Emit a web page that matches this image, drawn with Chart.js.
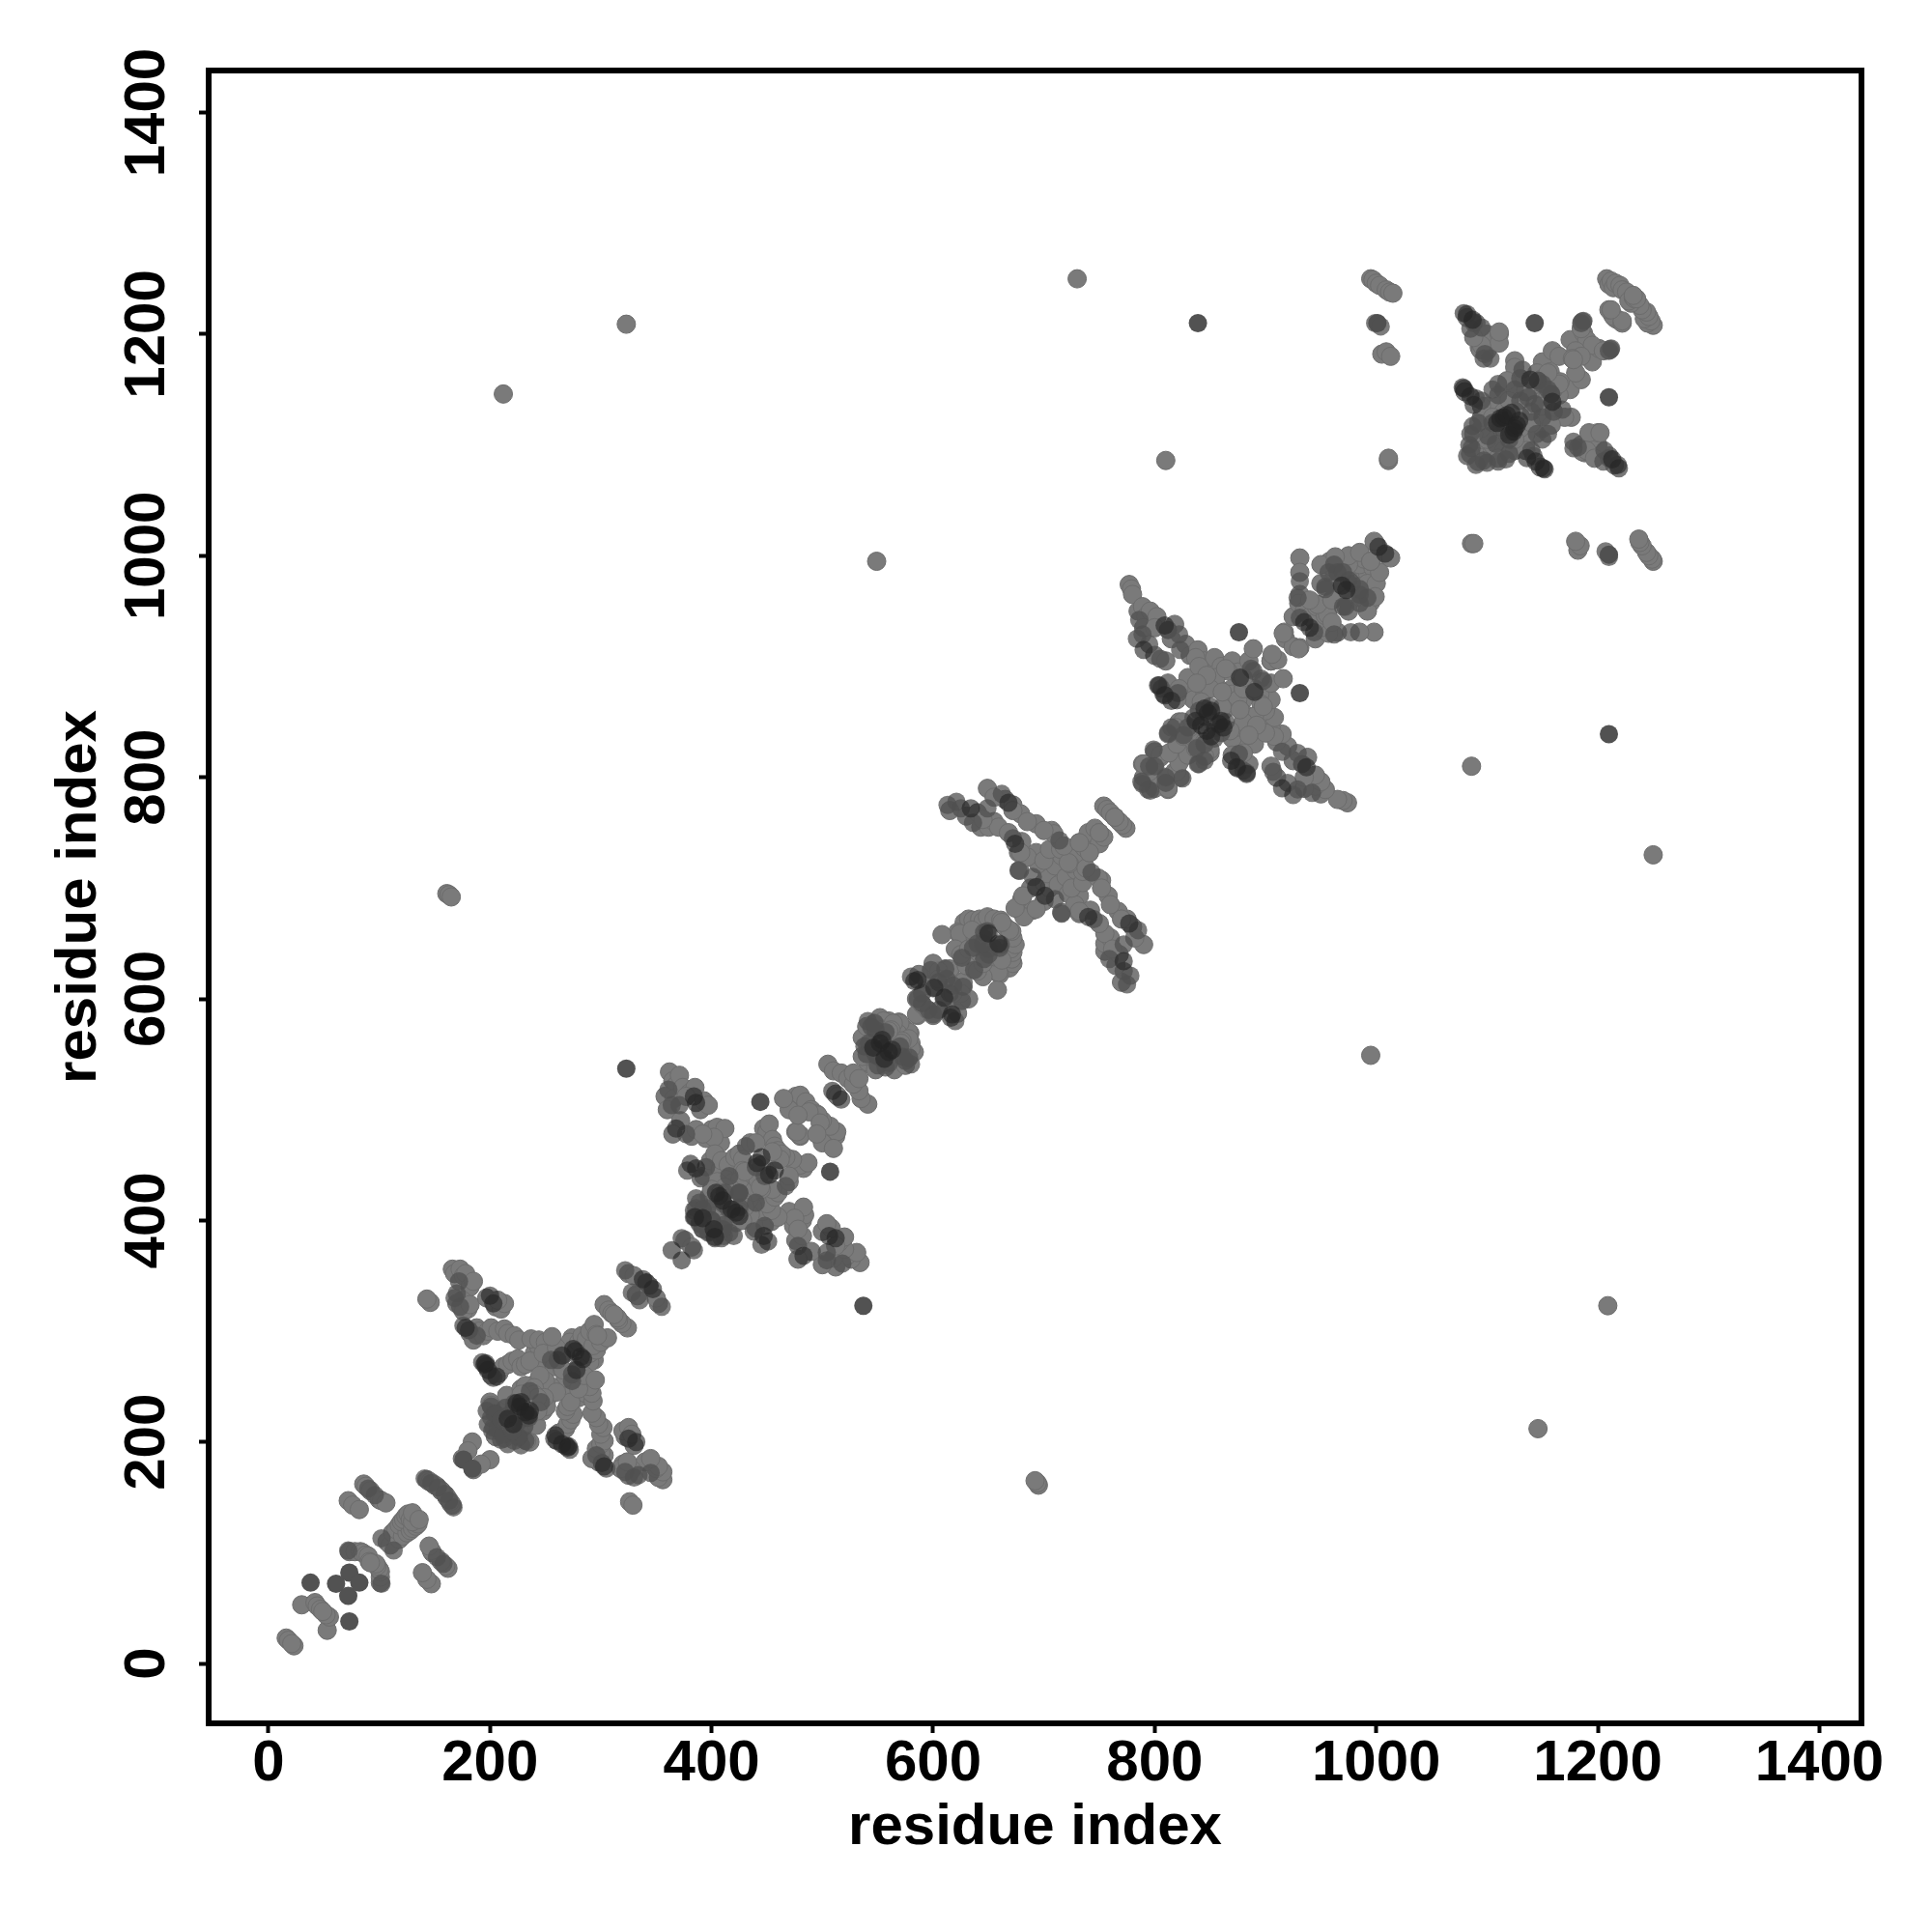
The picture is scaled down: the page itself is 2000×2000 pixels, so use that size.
<!DOCTYPE html>
<html>
<head>
<meta charset="utf-8">
<script src="https://cdn.jsdelivr.net/npm/chart.js@4"></script>
<style>
  html, body { margin: 0; padding: 0; background: #fff; }
  canvas { display: block; }
</style>
</head>
<body>
<canvas id="myChart" width="2000" height="2000"></canvas>
<script>
// contact map, only i < j is listed, the plot is symmetric so each pair goes in twice
const tickValues = [0, 200, 400, 600, 800, 1000, 1200, 1400];
const axisLabel = 'residue index';

// the darkest spots, these stay visible on top of the clusters
const coreContacts = [
  [200,332],[203,325],[178,303],[195,270],[198,265],[224,235],[227,232],[206,259],[196,271],[275,284],[277,282],[265,278],[338,347],[228,236],[216,221],
  [384,512],[386,506],[368,483],[381,451],[386,447],[445,457],[441,452],[407,422],[410,418],[404,425],[392,402],[385,403],[364,373],[509,517],
  [546,556],[552,560],[554,563],[583,616],[601,610],[586,617],[650,659],[693,701],[634,772],[668,777],[674,740],
  [809,937],[790,915],[803,883],[809,874],[877,890],[837,851],[842,847],[851,860],[848,858],[845,862],[815,869],
  [935,940],[969,973],[1002,1008],
  [1079,1219],[1087,1213],[1078,1152],[1085,1144],[1139,1159],[1109,1120],[1122,1129],[1115,1125],[1112,1124],[1118,1127],[1088,1136],[1079,1151]
];

// strong contacts, mostly hidden under the lighter dots
const darkContacts = [
  [176,184],[181,301],[201,260],[341,344],[444,507],[546,554],[812,933],[876,931],[1143,1210],[1001,1210],[1146,1158],[1112,1122],
  [38,73],[323,537],[839,1210],[61,72],[73,82]
];

// middle shade
const midContacts = [
  [72,102],[102,113],[141,167],[147,163],[153,159],[90,158],[96,152],
  [170,334],[173,322],[188,296],[201,232],[201,222],[202,210],[214,231],[232,225],[226,204],[213,203],
  [261,274],[255,274],[236,246],[322,355],[328,335],[361,518],[364,504],[371,504],[377,478],
  [389,416],[386,411],[389,397],[397,390],[396,411],[409,384],[373,384],[415,411],[431,467],[440,448],
  [538,557],[544,575],[548,572],[540,550],[557,570],[586,600],[598,626],[611,627],[605,615],[596,590],
  [636,646],[646,660],[661,649],[626,637],[677,716],[613,775],[621,778],[636,759],[649,772],[662,785],
  [714,743],[789,929],[786,942],[805,907],[822,929],[823,915],[821,876],[812,839],[826,838],[854,835],
  [789,794],[796,788],[825,799],[840,812],[883,804],[864,850],[889,896],[898,887],[931,977],[944,931],
  [962,929],[962,992],[954,972],[970,954],[985,957],[999,1210],[1004,1207],
  [1095,1206],[1098,1182],[1097,1178],[1095,1140],[1110,1155],[1132,1168],[1087,1117],[1084,1100],
  [1097,1086],[1116,1112],[1101,1108],[1143,1137],[1082,1218],[1088,1210],[1187,1212],[1185,1210],
  [197,228],[205,225],[198,216],[207,212],[218,225],[222,232],[235,222],[220,210],[193,272],[203,258],
  [176,305],[172,345],[168,330],[378,445],[390,438],[395,448],[416,440],[412,425],[425,425],[386,420],
  [392,410],[384,403],[392,392],[400,400],[541,580],[547,578],[542,560],[555,555],[550,548],[580,620],
  [590,605],[612,618],[640,650],[650,645],[690,710],[625,772],[672,745],[795,920],[784,925],[806,880],
  [815,845],[830,845],[860,840],[795,810],[810,800],[875,808],[965,985],[978,975],[985,970],
  [1085,1205],[1103,1178],[1090,1142],[1105,1150],[1130,1160],[1150,1155],[1130,1140],[1085,1110],
  [1092,1120],[1105,1120],[1120,1115],[1145,1110],[1082,1090],[1125,1150]
];

// weakest contacts (lightest dots)
const lightContacts = [
  [16,23],[18,21],[30,53],[42,55],[44,52],[47,49],
  [73,101],[78,101],[83,101],[85,100],[88,98],[90,97],[91,92],[72,147],[76,143],[82,139],[86,162],[88,160],[92,156],[100,148],[102,147],[106,145],
  [107,110],[112,118],[115,121],[118,125],[120,128],[122,130],[124,133],[126,135],[128,130],[130,136],[143,166],[144,165],[146,164],[149,162],[150,161],[152,160],[156,156],[175,185],[184,200],[180,192],
  [166,356],[168,352],[173,356],[176,350],[178,352],[182,340],[185,345],[175,328],[180,320],[170,325],[176,318],[146,326],[143,329],[182,324],[197,330],[205,322],[210,320],[213,325],[207,328],
  [182,298],[185,292],[188,303],[190,300],[194,296],[198,300],[201,303],[207,300],[213,302],[216,298],[222,296],[226,292],
  [197,268],[205,263],[208,262],[212,268],[216,270],[220,273],[225,275],[228,268],[232,270],[240,280],[244,286],[254,282],[250,272],[258,268],
  [237,293],[244,292],[250,290],[236,273],[248,280],[221,216],[228,228],[228,208],[236,200],[239,219],[242,215],[233,201],[245,233],[248,228],[252,240],[255,250],[260,245],[205,205],
  [232,251],[240,249],[240,243],[228,243],[274,294],[265,266],[268,280],[272,290],[280,290],[283,296],[260,285],[256,295],[287,293],[290,300],[294,306],[296,297],[303,324],[307,319],[310,316],[315,312],
  [325,352],[330,350],[332,333],
  [362,534],[365,526],[368,522],[358,512],[366,510],[360,500],[371,531],[374,520],[380,515],[390,500],[393,508],[397,504],[385,520],[377,512],[372,490],[365,478],[382,476],[395,474],[386,482],[400,482],[405,484],[408,470],[412,483],[402,475],[392,478],
  [447,483],[450,480],[452,487],[455,473],[457,467],[460,463],[393,440],[399,454],[403,460],[408,446],[409,454],[415,450],[421,457],[425,460],[435,470],[428,455],[413,437],[423,431],[419,434],[428,445],[432,438],[436,425],[436,442],[444,430],[450,445],[462,455],[440,470],[405,435],[418,428],
  [405,405],[410,395],[402,415],[398,422],[412,404],[420,400],[430,412],[400,428],[425,408],[376,382],[505,541],[510,535],[517,533],[523,528],[512,514],[476,512],[480,513],[485,507],[490,500],[495,496],[476,480],[480,477],[470,500],[465,510],[488,498],[478,495],
  [528,533],[552,583],[560,580],[554,576],[569,579],[572,575],[578,570],[576,560],[580,555],[578,547],[536,565],[557,541],[543,541],[563,550],[569,568],[564,578],[550,565],[572,552],[586,585],[562,572],[566,560],[571,560],[548,542],[556,550],[575,540],[536,548],
  [626,600],[627,611],[615,623],[615,627],[586,600],[595,612],[587,622],[600,632],[605,625],[590,595],[600,585],[610,600],[618,605],
  [628,669],[632,672],[636,671],[642,672],[645,670],[649,674],[655,672],[661,671],[665,665],[669,662],[622,660],[632,656],[626,653],[630,650],[640,640],[608,658],[634,640],[645,655],[624,659],[655,638],[662,635],[620,645],[630,630],[640,625],[645,632],
  [677,681],[680,690],[682,674],[688,700],[693,681],[700,705],[678,716],[703,713],[710,720],[695,722],[693,732],[685,728],[677,732],[716,729],[700,725],[705,735],[715,735],[725,735],[728,728],[707,752],[693,758],[709,749],[723,722],
  [649,790],[615,770],[630,765],[640,768],[643,755],[650,755],[655,760],[659,755],[665,780],[672,775],[668,750],[679,767],[680,742],[685,760],[700,752],[718,738],[679,732],[732,741],[736,737],[740,750],[741,732],[754,774],[757,771],[760,768],[764,764],[746,754],[750,750],[655,782],[672,770],[645,762],
  [777,974],[779,970],[780,965],[785,950],[789,954],[792,945],[796,950],[790,935],[802,945],[800,935],[815,925],[818,938],[800,910],[810,905],[828,920],[832,910],[839,915],[845,905],[837,908],[854,908],[860,900],[870,905],[875,895],[885,905],[838,884],[854,887],[866,896],[889,916],[860,878],[870,880],
  [812,880],[828,880],[845,880],[850,890],[858,880],[870,875],[880,880],[890,880],
  [822,850],[845,855],[855,850],[835,835],[845,832],[870,835],[878,845],[890,855],[880,850],[800,823],[805,818],[789,812],[800,809],[820,805],[790,800],[805,795],[815,822],[822,813],[830,820],[850,825],[870,820],[885,812],[890,830],[900,840],[845,819],[837,826],[812,790],[880,822],[863,861],[877,861],[892,847],[885,838],[868,842],[898,864],
  [905,905],[911,906],[918,925],[917,931],[925,945],[930,916],[931,998],[931,985],[931,965],[930,957],[935,950],[940,945],[946,954],[956,947],[940,960],
  [954,992],[958,995],[970,995],[975,990],[979,995],[990,995],[958,975],[962,985],[965,965],[972,980],[975,965],[985,990],[992,985],[997,989],[992,975],[990,960],[1000,975],[1003,985],[960,960],[975,950],[992,950],[999,963],[995,995],[1000,1010],[1013,998],
  [1082,1215],[1090,1210],[1100,1200],[1105,1195],[1093,1188],[1100,1185],[1111,1200],[1111,1192],[1125,1176],[1125,1170],[1150,1175],[1159,1185],[1165,1180],[1175,1195],[1186,1211],[1187,1201],[1190,1195],[1185,1205],[1180,1185],[1120,1155],[1157,1166],[1177,1178],
  [1080,1148],[1100,1135],[1115,1150],[1145,1165],[1160,1150],[1140,1150],[1155,1145],[1120,1140],[1110,1135],[1090,1095],[1100,1095],[1095,1105],[1105,1100],[1115,1095],[1130,1115],[1125,1095],[1135,1095],[1140,1120],[1155,1125],[1160,1130],[1092,1085],
  [1110,1088],[1130,1126],[1122,1105],[1158,1118],[1150,1135],[1094,1186],[1111,1202],[1095,1190],[1088,1197],[1105,1125],[1135,1148],[1165,1155],
  [1208,1250],[1210,1245],[1212,1248],[1214,1242],[1216,1246],[1220,1244],[1222,1240],[1226,1238],[1230,1228],[1232,1233],[1235,1232],[1213,1218],[1216,1214],[1210,1222],[1222,1212],
  [212,1146],[323,1209],[730,1250],[810,1086],[549,995],[161,695],[163,694],[165,692],
  [995,1250],[997,1249],[1000,1246],[1003,1244],[1009,1240],[1012,1238],[1015,1237],[1005,1182],[1009,1184],[1013,1180],[1011,1086],[1011,1088]
];

// both orders of every pair
const bothWays = pairs => pairs.flatMap(([i, j]) => [{x: i, y: j}, {x: j, y: i}]);

const boxPlugin = {
  id: 'box',
  afterDraw(chart) {
    const {ctx, chartArea: a} = chart;
    ctx.save();
    ctx.strokeStyle = '#000';
    ctx.lineWidth = 6;
    ctx.strokeRect(a.left, a.top, a.right - a.left, a.bottom - a.top);
    ctx.restore();
  }
};

const font = {family: '"Liberation Sans"', size: 60, weight: 'bold'};

function axis(extra) {
  return Object.assign({
    type: 'linear',
    min: -54,
    max: 1438,
    afterBuildTicks: scale => { scale.ticks = tickValues.map(v => ({value: v})); },
    grid: {drawOnChartArea: false, drawTicks: true, tickLength: 10, tickWidth: 4, tickColor: '#000'},
    border: {display: false},
  }, extra);
}

new Chart(document.getElementById('myChart'), {
  type: 'scatter',
  data: {
    datasets: [
      {label: 'core', data: bothWays(coreContacts), order: 0, backgroundColor: 'rgba(35,35,35,0.62)'},
      {label: 'medium', data: bothWays(midContacts), order: 1, backgroundColor: 'rgba(80,80,80,0.75)'},
      {label: 'strong', data: bothWays(darkContacts), order: 2, backgroundColor: 'rgb(82,82,82)'},
      {label: 'weak', data: bothWays(lightContacts), order: 3, backgroundColor: 'rgb(122,122,122)',
        borderColor: 'rgb(108,108,108)', pointBorderWidth: 1},
    ]
  },
  options: {
    responsive: false,
    animation: false,
    elements: {point: {radius: 9.5, borderWidth: 0}},
    layout: {padding: {left: 46, right: 73, top: 73, bottom: 72}},
    plugins: {legend: {display: false}, tooltip: {enabled: false}},
    scales: {
      x: axis({
        afterFit: scale => { scale.height = 216 - 72; },
        ticks: {color: '#000', font, padding: -4, autoSkip: false, maxRotation: 0, callback: v => String(v)},
        title: {display: true, text: axisLabel, color: '#000', font, padding: {top: 0, bottom: 0}},
      }),
      y: axis({
        afterFit: scale => { scale.width = 216 - 46; },
        ticks: {color: '#000', font, padding: -14, autoSkip: false, minRotation: 90, maxRotation: 90, crossAlign: 'center', callback: v => String(v)},
        title: {display: true, text: axisLabel, color: '#000', font, padding: {top: 0, bottom: 0}},
      }),
    }
  },
  plugins: [boxPlugin]
});
</script>
</body>
</html>
